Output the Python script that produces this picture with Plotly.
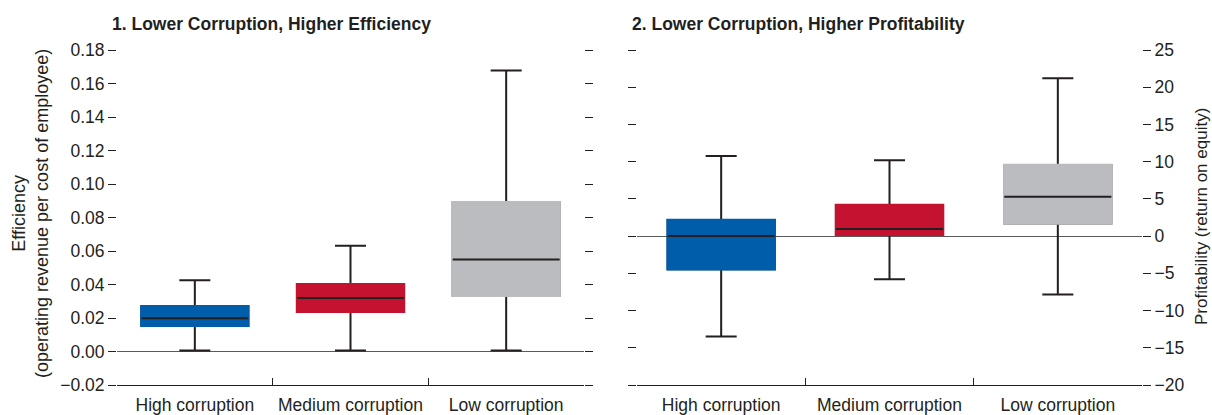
import plotly.graph_objects as go

# ---------------- data ----------------
categories = ["High corruption", "Medium corruption", "Low corruption"]
box_colors = ["#005DAA", "#C41230", "#BBBCBF"]

# Panel 1: Efficiency (operating revenue per cost of employee)
eff_lower = [0.0006, 0.0006, 0.0006]
eff_q1 = [0.0153, 0.0238, 0.0333]
eff_median = [0.0199, 0.0319, 0.0549]
eff_q3 = [0.0270, 0.0402, 0.0891]
eff_upper = [0.0425, 0.0632, 0.1677]
eff_ticks = [-0.02, 0.00, 0.02, 0.04, 0.06, 0.08, 0.10, 0.12, 0.14, 0.16, 0.18]

# Panel 2: Profitability (return on equity)
prof_lower = [-13.5, -5.8, -7.85]
prof_q1 = [-4.45, 0.18, 1.7]
prof_median = [0.0, 0.94, 5.29]
prof_q3 = [2.15, 4.17, 9.56]
prof_upper = [10.77, 10.19, 21.2]
prof_ticks = [-20, -15, -10, -5, 0, 5, 10, 15, 20, 25]

titles = ["1. Lower Corruption, Higher Efficiency",
          "2. Lower Corruption, Higher Profitability"]
y_title_left = "Efficiency<br>(operating revenue per cost of employee)"
y_title_right = "Profitability (return on equity)"

# ---------------- styling ----------------
DARK = "#231F20"
FONT = "Liberation Sans, Arial, sans-serif"
W, H = 1212, 415
L, R, T, B = 117, 70, 50, 30
plot_w = W - L - R
plot_h = H - T - B


def px_x(px):
    return (px - L) / plot_w


def px_y(py):
    return (H - B - py) / plot_h


fig = go.Figure()


def add_panel(xa, ya, lower, q1, med, q3, upper, bw):
    common = dict(x=categories, xaxis=xa, yaxis=ya, width=bw,
                  hoverinfo="skip", showlegend=False, boxpoints=False)
    # whiskers (dark)
    fig.add_trace(go.Box(q1=q1, median=med, q3=q3, lowerfence=lower,
                         upperfence=upper, whiskerwidth=0.29,
                         fillcolor=DARK, line=dict(color=DARK, width=2),
                         **common))
    # coloured boxes
    for i, c in enumerate(categories):
        fig.add_trace(go.Box(x=[c], q1=[q1[i]], median=[med[i]], q3=[q3[i]],
                             lowerfence=[q1[i]], upperfence=[q3[i]],
                             whiskerwidth=0, width=bw, xaxis=xa, yaxis=ya,
                             fillcolor=box_colors[i],
                             line=dict(color=box_colors[i], width=2.5),
                             hoverinfo="skip", showlegend=False,
                             boxpoints=False))
    # medians
    fig.add_trace(go.Box(q1=med, median=med, q3=med, lowerfence=med,
                         upperfence=med, whiskerwidth=0,
                         fillcolor=DARK, line=dict(color=DARK, width=2),
                         **common))


add_panel("x", "y", eff_lower, eff_q1, eff_median, eff_q3, eff_upper, 0.687)
add_panel("x2", "y2", prof_lower, prof_q1, prof_median, prof_q3, prof_upper, 0.636)

xcommon = dict(type="category", categoryorder="array", categoryarray=categories,
               range=[-0.5, 2.5], tickson="boundaries", ticks="inside",
               ticklen=7, tickwidth=1, tickcolor=DARK, showline=True,
               linecolor=DARK, linewidth=1, showgrid=False, zeroline=False,
               tickangle=0, automargin=False, ticklabelstandoff=4,
               tickfont=dict(size=17.5, color=DARK, family=FONT))
ycommon = dict(ticks="outside", ticklen=8, tickwidth=1, tickcolor=DARK,
               mirror="ticks", showline=False, showgrid=False,
               zeroline=True, zerolinecolor="#5a5a5a", zerolinewidth=1,
               automargin=False,
               tickfont=dict(size=17.5, color=DARK, family=FONT))

fig.update_layout(
    width=W, height=H,
    margin=dict(l=L, r=R, t=T, b=B, pad=0, autoexpand=False),
    paper_bgcolor="white", plot_bgcolor="white",
    font=dict(family=FONT, color=DARK, size=17.5),
    boxmode="overlay",
    xaxis=dict(domain=[0, px_x(584)], anchor="y", **xcommon),
    xaxis2=dict(domain=[px_x(637), 1], anchor="y2", **xcommon),
    yaxis=dict(domain=[0, 1], anchor="x", range=[-0.02, 0.18],
               tickvals=eff_ticks, tickformat=".2f", side="left", **ycommon),
    yaxis2=dict(domain=[0, 1], anchor="x2", range=[-20, 25],
                tickvals=prof_ticks, side="right", **ycommon),
    annotations=[
        dict(text="<b>" + titles[0] + "</b>", xref="paper", yref="paper",
             x=px_x(110), y=px_y(24), xanchor="left", yanchor="middle",
             showarrow=False, font=dict(size=17.5, color=DARK, family=FONT)),
        dict(text="<b>" + titles[1] + "</b>", xref="paper", yref="paper",
             x=px_x(630), y=px_y(24), xanchor="left", yanchor="middle",
             showarrow=False, font=dict(size=17.5, color=DARK, family=FONT)),
        dict(text=y_title_left, xref="paper", yref="paper",
             x=px_x(31), y=px_y(214), xanchor="center", yanchor="middle",
             textangle=-90, showarrow=False,
             font=dict(size=18, color=DARK, family=FONT)),
        dict(text=y_title_right, xref="paper", yref="paper",
             x=px_x(1201), y=px_y(217), xanchor="center", yanchor="middle",
             textangle=-90, showarrow=False,
             font=dict(size=17, color=DARK, family=FONT)),
    ],
)

fig.write_html(
    "out.html",
    config={"displayModeBar": False},
    post_script="document.body.style.margin='0';document.body.style.padding='0';",
)
